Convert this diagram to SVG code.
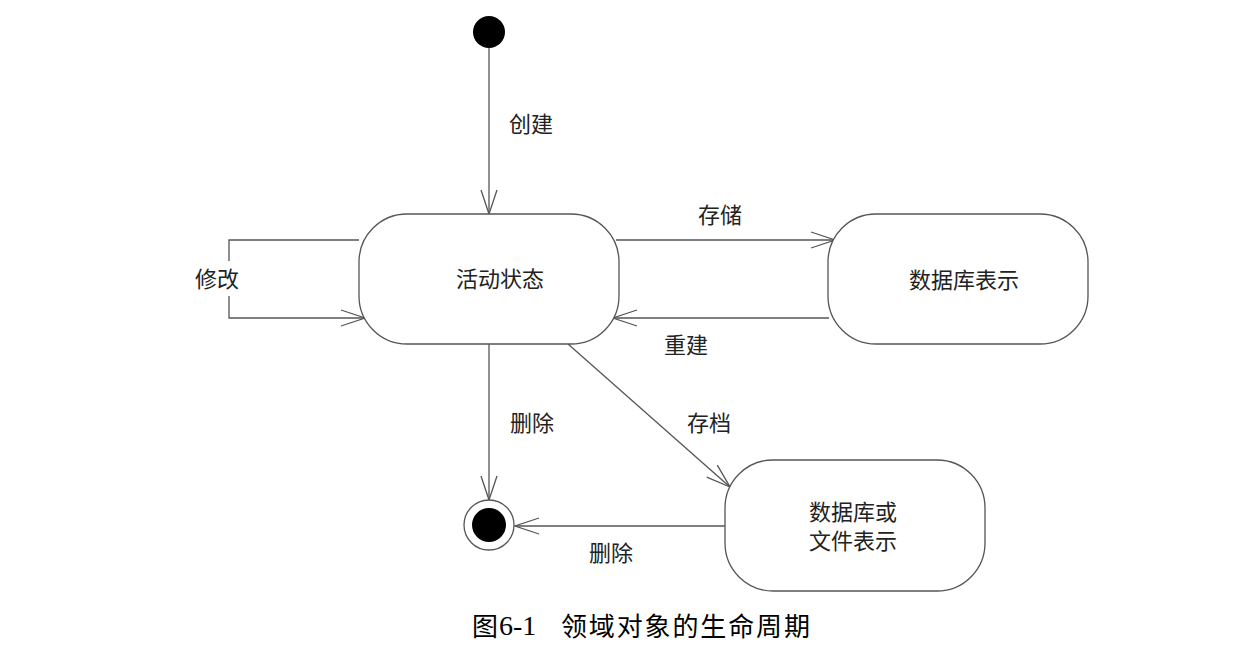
<svg xmlns="http://www.w3.org/2000/svg" width="1242" height="668" viewBox="0 0 1242 668">
<style>
.box{fill:#fff;stroke:#555;stroke-width:1.3}
.ln{fill:none;stroke:#555;stroke-width:1.3}
.t{font-family:"Noto Sans CJK SC","Noto Sans",sans-serif;font-size:22px;fill:#222;text-anchor:middle;dominant-baseline:central}
.cap{font-family:"Liberation Serif","Noto Sans CJK SC",serif;font-size:28px;fill:#000}
.capc{font-family:"Noto Sans CJK SC",sans-serif;font-size:26px;fill:#000}
</style>
<defs>
<marker id="ah" markerUnits="userSpaceOnUse" markerWidth="28" markerHeight="20" viewBox="0 0 28 20" refX="25" refY="9" orient="auto">
<path d="M1,1 L25,9 L1,17" fill="none" stroke="#555" stroke-width="1.3"/>
</marker>
</defs>
<rect width="1242" height="668" fill="#fff"/>
<g id="connectors">
<line class="ln" x1="489" y1="48" x2="489" y2="214" marker-end="url(#ah)"/>
<text class="t" x="531" y="122">创建</text>
<path class="ln" d="M359,240 H229 V261"/>
<path class="ln" d="M229,296 V318 H365" marker-end="url(#ah)"/>
<text class="t" x="217" y="277">修改</text>
<line class="ln" x1="616" y1="240" x2="835" y2="240" marker-end="url(#ah)"/>
<text class="t" x="720" y="213">存储</text>
<line class="ln" x1="829" y1="318" x2="613" y2="318" marker-end="url(#ah)"/>
<text class="t" x="686" y="343">重建</text>
<line class="ln" x1="489" y1="344" x2="489" y2="500" marker-end="url(#ah)"/>
<text class="t" x="532" y="421">删除</text>
<line class="ln" x1="568" y1="344" x2="730" y2="487" marker-end="url(#ah)"/>
<text class="t" x="709" y="421">存档</text>
<line class="ln" x1="725" y1="526" x2="515" y2="526" marker-end="url(#ah)"/>
<text class="t" x="611" y="551">删除</text>
</g>
<g id="start">
<circle cx="489" cy="32" r="16" fill="#000"/>
</g>
<g id="active">
<rect class="box" x="359" y="214" width="260" height="130" rx="48" ry="48"/>
<text class="t" x="500" y="277">活动状态</text>
</g>
<g id="db">
<rect class="box" x="828" y="214" width="260" height="130" rx="48" ry="48"/>
<text class="t" x="964" y="278">数据库表示</text>
</g>
<g id="archive">
<rect class="box" x="725" y="460" width="260" height="131" rx="48" ry="48"/>
<text class="t" x="853" y="510">数据库或</text>
<text class="t" x="853" y="539">文件表示</text>
</g>
<g id="end">
<circle cx="489" cy="525" r="25" fill="#fff" stroke="#555" stroke-width="1.3"/>
<circle cx="489" cy="525" r="17" fill="#000"/>
</g>
<g id="caption">
<text class="capc" x="472" y="636">图</text>
<text class="cap" x="499" y="635">6-1</text>
<text class="capc" x="561" y="636" textLength="249" lengthAdjust="spacing">领域对象的生命周期</text>
</g>
</svg>
